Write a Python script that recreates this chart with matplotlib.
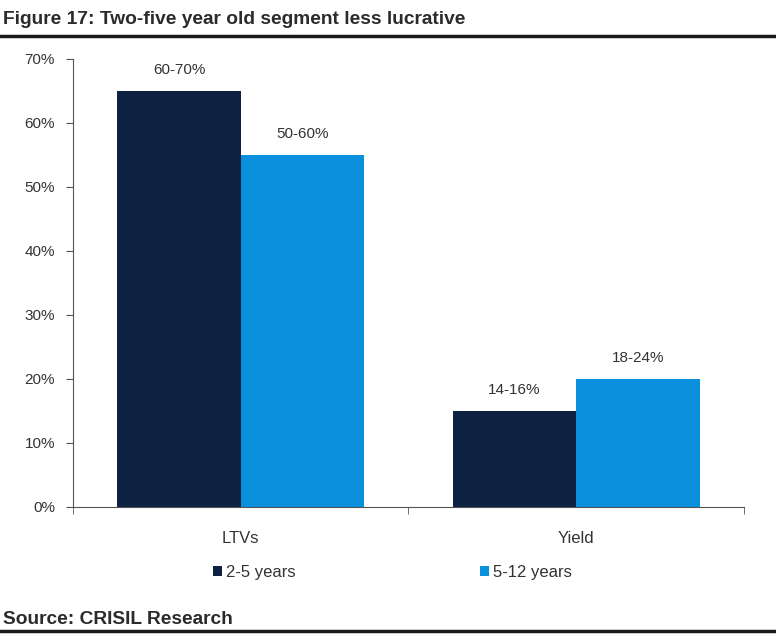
#! /usr/bin/env python3


import numpy as np
import matplotlib.pyplot as plt
from matplotlib.lines import Line2D
from matplotlib.ticker import PercentFormatter


plt.rcParams['font.family'] = ['Liberation Sans', 'DejaVu Sans']

# Loan-to-value and yield ranges by vehicle age.
categories = ["LTVs", "Yield"]
series_names = ["2-5 years", "5-12 years"]
young = [0.65, 0.15]
old = [0.55, 0.20]
young_labels = ["60-70%", "14-16%"]
old_labels = ["50-60%", "18-24%"]

dark = "#0f2143"
light = "#0a90dc"
text_col = "#333333"

fig = plt.figure(figsize=(7.76, 6.35), dpi=100)
ax = fig.add_axes([0.094, 0.2016, 0.8648, 0.7055])

x = np.arange(len(categories))
w = 0.368
b1 = ax.bar(x - w / 2, young, w, color=dark, label=series_names[0])
b2 = ax.bar(x + w / 2, old, w, color=light, label=series_names[1])

for bars, labels in ((b1, young_labels), (b2, old_labels)):
    for rect, lab in zip(bars, labels):
        ax.text(rect.get_x() + rect.get_width() / 2, rect.get_height() + 0.022,
                lab, ha="center", va="bottom", fontsize=11, color=text_col)

ax.set_xlim(-0.5, 1.5)
ax.set_ylim(0, 0.7)
ax.set_yticks(np.arange(0, 0.71, 0.1))
ax.yaxis.set_major_formatter(PercentFormatter(1.0, decimals=0))
ax.set_xticks(x)
ax.set_xticklabels(categories)
ax.set_xticks([-0.5, 0.5, 1.5], minor=True)
ax.tick_params(axis="x", which="major", length=0, pad=17, labelsize=12, labelcolor=text_col)
ax.tick_params(axis="x", which="minor", length=5, direction="out", color="#555555")
ax.tick_params(axis="y", length=5, direction="out", pad=8, labelsize=11,
               labelcolor=text_col, color="#555555")

for side in ("top", "right"):
    ax.spines[side].set_visible(False)
for side in ("left", "bottom"):
    ax.spines[side].set_color("#555555")

ax.legend(loc="upper center", bbox_to_anchor=(0.476, -0.095), ncol=2, frameon=False,
          handlelength=0.55, handleheight=0.55, handletextpad=0.2,
          columnspacing=11.1, fontsize=12, labelcolor=text_col)

fig.text(0.004, 0.962, "Figure 17: Two-five year old segment less lucrative",
         fontsize=13.8, fontweight="bold", color="#2b2b2b", va="baseline")
fig.text(0.004, 0.018, "Source: CRISIL Research", fontsize=13.8,
         fontweight="bold", color="#2b2b2b", va="baseline")

fig.add_artist(Line2D([0, 1], [0.944, 0.944], color="#1a1a1a", lw=2.5,
                      transform=fig.transFigure))
fig.add_artist(Line2D([0, 1], [0.006, 0.006], color="#1a1a1a", lw=2.5,
                      transform=fig.transFigure))

fig.savefig("out.png", dpi=100)
